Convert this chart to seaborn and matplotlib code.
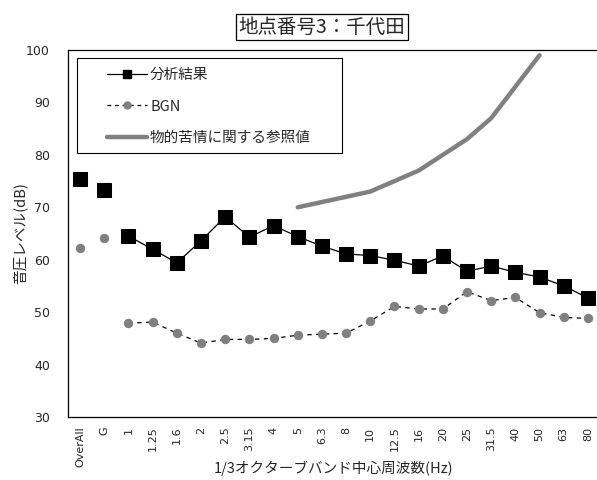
import matplotlib
matplotlib.use("Agg")
import matplotlib.pyplot as plt
from matplotlib.lines import Line2D
from matplotlib.patches import Rectangle
import numpy as np
import pandas as pd
import seaborn as sns

# 1/3 octave band centre frequencies (plus overall / G-weighted)
bands = ["OverAll", "G", "1", "1.25", "1.6", "2", "2.5", "3.15", "4", "5", "6.3",
         "8", "10", "12.5", "16", "20", "25", "31.5", "40", "50", "63", "80"]
analysis = [75.3, 73.3, 64.5, 62.0, 59.4, 63.6, 68.2, 64.3, 66.5, 64.4, 62.6,
            61.1, 60.8, 59.9, 58.8, 60.7, 57.8, 58.8, 57.6, 56.7, 55.0, 52.7]
bgn = [62.2, 64.1, 47.9, 48.1, 46.0, 44.1, 44.8, 44.8, 45.0, 45.6, 45.8,
       46.0, 48.3, 51.1, 50.6, 50.6, 53.9, 52.2, 52.8, 49.9, 49.0, 48.8]
# reference values for physical complaints
ref_bands = ["5", "6.3", "8", "10", "12.5", "16", "20", "25", "31.5", "40", "50"]
ref_values = [70, 71, 72, 73, 75, 77, 80, 83, 87, 93, 99]

title = "地点番号3：千代田"
labels = ["分析結果", "BGN", "物的苦情に関する参照値"]

sns.set_style("white")
plt.rcParams["font.family"] = ["Noto Sans CJK JP", "DejaVu Sans"]

df = pd.DataFrame({
    "pos": np.arange(len(bands)),
    "analysis": analysis,
    "bgn": bgn,
    "seg": [0, 1] + [2] * (len(bands) - 2),  # OverAll and G are not joined
})
ref_df = pd.DataFrame({"pos": [bands.index(b) for b in ref_bands], "value": ref_values})

fig = plt.figure(figsize=(5.97, 4.8), dpi=100)
ax = fig.add_axes([68 / 597, 1 - 417 / 480, 532 / 597, 367 / 480])

sns.lineplot(data=ref_df, x="pos", y="value", color="#808080", lw=3.2,
             ax=ax, legend=False, solid_capstyle="round")
sns.lineplot(data=df, x="pos", y="bgn", units="seg", estimator=None,
             color="black", lw=0.9, linestyle=(0, (3.5, 3.5)), marker="o",
             markersize=6, markerfacecolor="#808080", markeredgecolor="#808080",
             ax=ax, legend=False)
sns.lineplot(data=df, x="pos", y="analysis", units="seg", estimator=None,
             color="black", lw=0.9, marker="s", markersize=9.5,
             markerfacecolor="black", markeredgecolor="black",
             ax=ax, legend=False)

ax.set_xlim(-0.5, len(bands) - 0.5)
ax.set_ylim(30, 100)
ax.set_yticks(np.arange(30, 101, 10))
ax.set_xticks(np.arange(len(bands)))
ax.set_xticklabels(bands, rotation=90, fontsize=8, family=["DejaVu Sans"])
ax.set_xticks(np.arange(0.5, len(bands) - 1, 1), minor=True)
ax.tick_params(axis="x", which="major", length=0, pad=7)
ax.tick_params(axis="x", which="minor", direction="in", length=4, width=0.8)
ax.tick_params(axis="y", direction="in", length=4, width=0.8, pad=13, labelsize=9)
for t in ax.get_yticklabels():
    t.set_family(["DejaVu Sans"])

for side in ["left", "bottom", "top"]:
    ax.spines[side].set_color("black")
    ax.spines[side].set_linewidth(0.9)
ax.spines["right"].set_visible(False)

ax.set_xlabel("1/3オクターブバンド中心周波数(Hz)", fontsize=10.5, va="center")
ax.xaxis.set_label_coords(0.5, (417 - 468) / 367)
ax.set_ylabel("音圧レベル(dB)", fontsize=10.5, va="center")
ax.yaxis.set_label_coords((20 - 68) / 532, 0.5)

# legend frame drawn separately so it matches the reference box size
ax.add_patch(Rectangle(((77 - 68) / 532, (417 - 153) / 367), (342 - 77) / 532,
                       (153 - 58) / 367, transform=ax.transAxes, fc="white",
                       ec="black", lw=0.8, zorder=4))
handles = [
    Line2D([], [], color="black", lw=0.9, marker="s", markersize=6),
    Line2D([], [], color="black", lw=0.9, linestyle=(0, (3, 3)), marker="o",
           markersize=5, markerfacecolor="#808080", markeredgecolor="#808080"),
    Line2D([], [], color="#808080", lw=3.2),
]
leg = ax.legend(handles, labels, loc="upper left",
                bbox_to_anchor=((107 - 68) / 532, (417 - 68) / 367),
                fontsize=10.5, frameon=False, borderpad=0, labelspacing=1.2,
                handlelength=2.75, handletextpad=0.2, borderaxespad=0)
leg.set_zorder(5)

fig.text(322 / 597, 1 - 27 / 480, title, ha="center", va="center", fontsize=14,
         bbox=dict(boxstyle="square,pad=0.12", fc="white", ec="black", lw=0.9))

fig.savefig("out.png", dpi=100)
